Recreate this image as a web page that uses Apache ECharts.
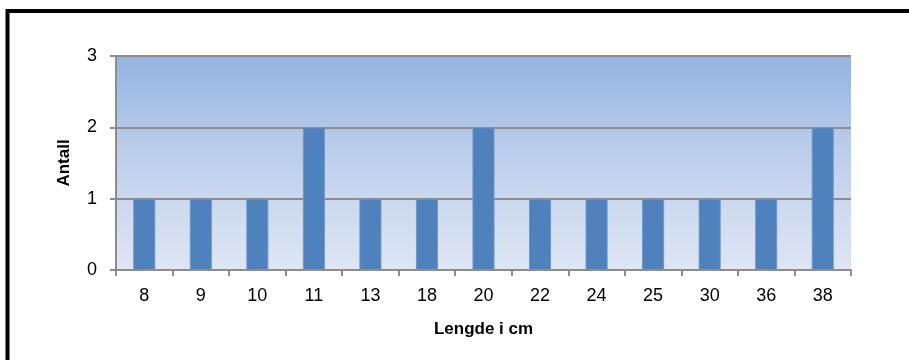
<!DOCTYPE html>
<html>
<head>
<meta charset="utf-8">
<script src="https://cdn.jsdelivr.net/npm/echarts@6/dist/echarts.min.js"></script>
<style>
  html, body { margin: 0; padding: 0; background: #fff; }
  #chart { width: 909px; height: 360px; }
</style>
</head>
<body>
<div id="chart"></div>
<script>
// Fish lengths (cm) and how many of each
const lengths = ['8', '9', '10', '11', '13', '18', '20', '22', '24', '25', '30', '36', '38'];
const counts = [1, 1, 1, 2, 1, 1, 2, 1, 1, 1, 1, 1, 2];
const yTicks = [0, 1, 2, 3];

const font = 'Liberation Sans, Arial, sans-serif';
const gridGray = '#8c8c8c';

const chart = echarts.init(document.getElementById('chart'), null, { renderer: 'canvas' });
chart.setOption({
  animation: false,
  backgroundColor: '#fff',
  graphic: [{
    type: 'rect',
    shape: { x: 7.5, y: 11, width: 1000, height: 400 },
    style: { fill: 'none', stroke: '#000', lineWidth: 4 },
    z: 100
  }],
  grid: {
    left: 116, right: 58, top: 56, bottom: 90,
    show: true,
    borderWidth: 0,
    backgroundColor: new echarts.graphic.LinearGradient(0, 0, 0, 1, [
      { offset: 0, color: '#95b3e1' },
      { offset: 0.5, color: '#c0d1ec' },
      { offset: 1, color: '#dfe6f4' }
    ])
  },
  xAxis: {
    type: 'category',
    data: lengths,
    name: 'Lengde i cm',
    nameLocation: 'middle',
    nameGap: 51,
    nameTextStyle: { fontFamily: font, fontWeight: 'bold', fontSize: 17, color: '#000' },
    axisLine: { lineStyle: { color: gridGray, width: 2 } },
    axisTick: { show: true, length: 6, lineStyle: { color: gridGray, width: 2 } },
    axisLabel: { fontFamily: font, fontSize: 18, color: '#000', margin: 17 }
  },
  yAxis: {
    type: 'value',
    min: yTicks[0],
    max: yTicks[yTicks.length - 1],
    interval: 1,
    name: 'Antall',
    nameLocation: 'middle',
    nameGap: 43,
    nameTextStyle: { fontFamily: font, fontWeight: 'bold', fontSize: 17, color: '#000' },
    axisLine: { show: true, lineStyle: { color: gridGray, width: 2 } },
    axisTick: { show: true, length: 6, lineStyle: { color: gridGray, width: 2 } },
    axisLabel: { fontFamily: font, fontSize: 18, color: '#000', margin: 19 },
    splitLine: { show: true, lineStyle: { color: gridGray, width: 2 } }
  },
  series: [{
    type: 'bar',
    data: counts,
    barWidth: '39%',
    itemStyle: { color: '#4f81bd', borderColor: '#6f96c8', borderWidth: 1 }
  }]
});
</script>
</body>
</html>
